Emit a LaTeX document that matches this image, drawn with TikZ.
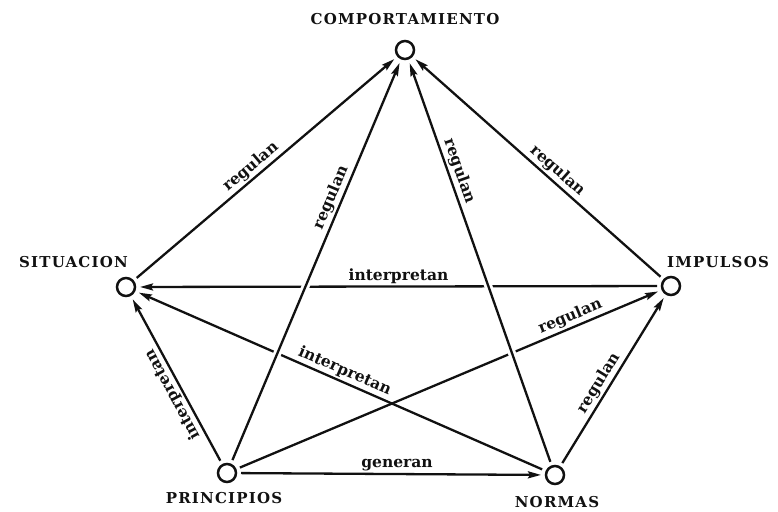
\documentclass[tikz,border=0pt]{standalone}
\usepackage{fontspec}
\setmainfont{DejaVu Serif}
\newfontfamily\namefont{DejaVu Serif}[LetterSpace=8]
\usetikzlibrary{arrows.meta,positioning}
\definecolor{inkblack}{HTML}{111111}

\tikzset{
  dot/.style={circle, draw=inkblack, line width=2.5pt, minimum size=18pt,
    inner sep=0pt, outer sep=5pt},
  vname/.style={font=\namefont\bfseries\fontsize{15}{17}\selectfont,
    text=inkblack, inner sep=1pt},
  rel/.style={draw=inkblack, line width=2.3pt,
    -{Stealth[length=13pt,width=7pt,inset=2pt]}},
  rtxt/.style={font=\bfseries\fontsize{15.5}{17}\selectfont, text=inkblack,
    sloped, above, inner sep=2pt},
  bridge/.style={preaction={draw=white, line width=8pt, -,
    shorten >=40pt, shorten <=40pt}},
}

\begin{document}
\begin{tikzpicture}[x=1pt, y=-1pt]
  \useasboundingbox (0,0) rectangle (778,511);

  % the five vertices
  \node[dot] (comp) at (405,50) {};
  \node[dot] (sit)  at (126,287) {};
  \node[dot] (imp)  at (671,286) {};
  \node[dot] (prin) at (227,473) {};
  \node[dot] (norm) at (555,475) {};

  % vertex names
  \node[vname, above=10pt of comp] (compname) {COMPORTAMIENTO};
  \node[vname, above=4pt of sit, anchor=south east, xshift=3pt] (sitname) {SITUACION};
  \node[vname, above=3pt of imp, anchor=south west, xshift=-5pt] (impname) {IMPULSOS};
  \node[vname, below=4pt of prin, xshift=-3pt] (prinname) {PRINCIPIOS};
  \node[vname, below=6pt of norm, xshift=2pt] (normname) {NORMAS};

  % edges that pass underneath
  \draw[rel] (imp) -- node[rtxt, pos=0.5] {interpretan} (sit);
  \draw[rel] (norm) -- node[rtxt, pos=0.5] {interpretan} (sit);
  \draw[rel] (prin) -- node[rtxt, allow upside down, pos=0.44] {interpretan} (sit);
  \draw[rel] (prin) -- node[rtxt, pos=0.8] {regulan} (imp);

  % the two long ones cross over the rest
  \draw[rel, bridge] (prin) -- node[rtxt, pos=0.65] {regulan} (comp);
  \draw[rel, bridge] (norm) -- node[rtxt, pos=0.72] {regulan} (comp);

  % outer edges
  \draw[rel] (sit) -- node[rtxt, pos=0.47] {regulan} (comp);
  \draw[rel] (imp) -- node[rtxt, pos=0.45] {regulan} (comp);
  \draw[rel] (norm) -- node[rtxt, pos=0.45] {regulan} (imp);
  \draw[rel] (prin) -- node[rtxt, pos=0.52] {generan} (norm);
\end{tikzpicture}
\end{document}
